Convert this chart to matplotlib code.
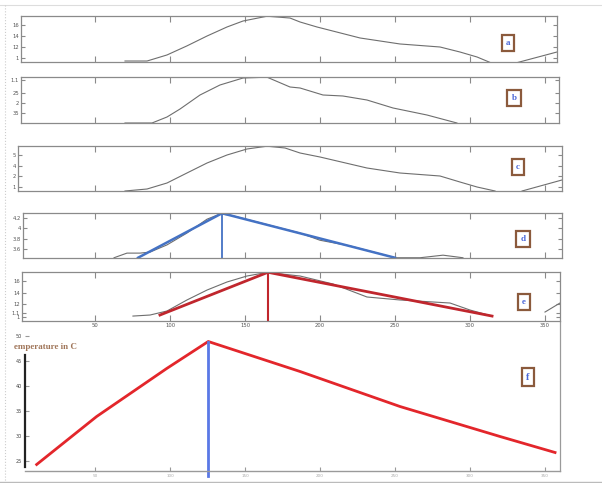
import numpy as np
import matplotlib
matplotlib.use('Agg')
import matplotlib.pyplot as plt
from matplotlib.lines import Line2D

# ---- data ----
# panel a (grey curve, two pieces)
a_x = [70, 84.7, 98, 111.3, 124.7, 138, 148.7, 164.7, 180, 186.7, 198, 226.7, 253.3, 280, 293.3, 304.7, 313.3]
a_y = [0.945, 0.945, 1.055, 1.22, 1.40, 1.564, 1.673, 1.76, 1.727, 1.655, 1.564, 1.364, 1.255, 1.20, 1.109, 1.018, 0.92]
a2_x = [332, 358]
a2_y = [0.92, 1.109]
a_ticks = [1.0, 1.2, 1.4, 1.6]
a_labels = ['1', '12', '14', '16']

# panel b
b_x = [70, 88, 98, 106.7, 120, 133.3, 148.7, 164.7, 180, 186.7, 202, 215.3, 231.3, 248.7, 271.3, 291.3]
b_y = [0, 0, 0.6, 1.4, 2.8, 3.8, 4.5, 4.58, 3.6, 3.5, 2.8, 2.7, 2.3, 1.5, 0.8, 0]
b_ticks = [1.0, 2.0, 3.0, 4.3]
b_labels = ['35', '2', '25', '1.1']

# panel c
c_x = [70, 84.7, 98, 111.3, 124.7, 138, 151.3, 164.7, 176.7, 186.7, 200, 231.3, 253.3, 280, 293.3, 304.7, 316.7]
c_y = [0, 0.2, 0.8, 1.8, 2.8, 3.6, 4.2, 4.48, 4.3, 3.8, 3.4, 2.3, 1.8, 1.5, 0.9, 0.4, 0]
c2_x = [334.7, 361.3]
c2_y = [0, 1.1]
c_ticks = [0.4, 1.5, 2.5, 3.6]
c_labels = ['1', '2', '4', '5']

# panel d
d_x = [62.7, 71.3, 80, 86.7, 98, 111.3, 124.7, 133.3, 140, 186.7, 200, 220, 250, 266.7, 282, 295.3]
d_y = [3.43, 3.52, 3.52, 3.54, 3.68, 3.91, 4.18, 4.28, 4.26, 3.91, 3.77, 3.66, 3.43, 3.43, 3.48, 3.43]
d_fit_x = [78.7, 134.7, 250]
d_fit_y = [3.43, 4.295, 3.43]
d_ticks = [3.6, 3.8, 4.0, 4.2]
d_labels = ['3.6', '3.8', '4', '4.2']

# panel e
e_x = [75.3, 86.7, 98, 111.3, 124.7, 138, 151.3, 164.7, 186.7, 208.7, 231.3, 253.3, 275.3, 286.7, 300, 314.7]
e_y = [0.99, 1.008, 1.078, 1.27, 1.443, 1.583, 1.687, 1.75, 1.687, 1.548, 1.322, 1.27, 1.235, 1.217, 1.095, 0.99]
e2_x = [350, 360]
e2_y = [1.06, 1.217]
e_fit_x = [93.3, 165.3, 314.7]
e_fit_y = [1.008, 1.752, 0.99]
e_ticks = [0.98, 1.05, 1.2, 1.4, 1.6]
e_labels = ['1', '1.1', '12', '14', '16']

# panel f
f_x = [11.1, 51.1, 97.8, 125.5, 186.7, 253.3, 320, 356.7]
f_y = [24.3, 33.9, 43.5, 48.9, 42.9, 35.9, 29.9, 26.7]
f_peak_x = 125.5
f_yticks = [25, 30, 35, 40, 45, 50]

x_ticks = [50, 100, 150, 200, 250, 300, 350]

W, H = 602, 483
fig = plt.figure(figsize=(W / 100, H / 100), dpi=100)

GREY = '#6e6e6e'
SPINE = '#8a8a8a'
BROWN = '#8b5a3c'
LBLUE = '#4a66d8'


def px_axes(l, t, r, b):
    ax = fig.add_axes([l / W, 1 - b / H, (r - l) / W, (b - t) / H])
    # x axis shared mapping: x = (px - 20) / 1.5
    ax.set_xlim((l - 20) / 1.5, (r - 20) / 1.5)
    return ax


def style(ax, yt, yl, xlabels=False):
    for s in ax.spines.values():
        s.set_color(SPINE)
        s.set_linewidth(0.9)
    ax.set_xticks(x_ticks)
    ax.set_yticks(yt)
    ax.set_yticklabels(yl)
    ax.tick_params(axis='both', direction='in', top=True, right=True,
                   color=SPINE, labelsize=3.8, labelcolor='#555555', pad=1.5)
    ax.tick_params(axis='x', length=4)
    ax.tick_params(axis='y', length=3)
    if not xlabels:
        ax.set_xticklabels([])


def tag(xp, yp, s, size=6.5):
    fig.text(xp / W, 1 - yp / H, s, ha='center', va='center', color=LBLUE,
             fontsize=size, family='Liberation Serif', fontweight='bold',
             bbox=dict(boxstyle='square,pad=0.45', fc='white', ec=BROWN, lw=1.6))


# f first, so panel e's tick labels are drawn above it
ax = px_axes(25, 322, 560, 471)
ax.patch.set_visible(False)
ax.plot(f_x, f_y, color='#e3262b', lw=2)
ax.plot([f_peak_x, f_peak_x], [22.0, max(f_y)], color='#5a78e6', lw=2, clip_on=False)
ax.set_ylim(23.0, 52.8)
ax.spines['top'].set_visible(False)
ax.spines['right'].set_color('#9a9a9a')
ax.spines['right'].set_linewidth(0.9)
ax.spines['bottom'].set_color('#9a9a9a')
ax.spines['bottom'].set_linewidth(1.0)
ax.spines['left'].set_color('#222222')
ax.spines['left'].set_linewidth(1.6)
ax.spines['left'].set_bounds(23.8, 46.2)
ax.set_xticks(x_ticks)
ax.set_yticks(f_yticks)
ax.tick_params(axis='both', direction='in', color='#999999', length=3,
               labelsize=3.5, labelcolor='#444444', pad=2)
ax.tick_params(axis='x', labelcolor='#aaaaaa', labelsize=3)
ax.text(-0.02, 0.83, 'emperature in C', transform=ax.transAxes, ha='left',
        va='center', color='#a0765a', fontsize=6.5, family='Liberation Serif',
        fontweight='bold')
tag(528, 377, 'f', size=7.5)

# a
ax = px_axes(21, 16, 557, 62)
ax.plot(a_x, a_y, color=GREY, lw=0.8)
ax.plot(a2_x, a2_y, color=GREY, lw=0.8)
ax.set_ylim(0.927, 1.764)
style(ax, a_ticks, a_labels)
tag(508, 43, 'a')

# b
ax = px_axes(21, 77, 559, 123)
ax.plot(b_x, b_y, color=GREY, lw=0.8)
ax.set_ylim(0, 4.6)
style(ax, b_ticks, b_labels)
tag(514, 98, 'b')

# c
ax = px_axes(18, 146, 562, 191)
ax.plot(c_x, c_y, color=GREY, lw=0.8)
ax.plot(c2_x, c2_y, color=GREY, lw=0.8)
ax.set_ylim(0, 4.5)
style(ax, c_ticks, c_labels)
tag(518, 167, 'c')

# d
ax = px_axes(23, 213, 562, 258)
ax.plot(d_x, d_y, color=GREY, lw=0.8)
ax.plot(d_fit_x, d_fit_y, color='#4472c4', lw=1.8)
ax.plot([d_fit_x[1], d_fit_x[1]], [3.425, d_fit_y[1]], color='#4472c4', lw=1.3)
ax.set_ylim(3.425, 4.30)
style(ax, d_ticks, d_labels)
tag(523, 239, 'd')

# e
ax = px_axes(22, 272, 560, 321)
ax.plot(e_x, e_y, color=GREY, lw=0.8)
ax.plot(e2_x, e2_y, color=GREY, lw=0.8)
ax.plot(e_fit_x, e_fit_y, color='#c0262d', lw=2)
ax.plot([e_fit_x[1], e_fit_x[1]], [0.904, e_fit_y[1]], color='#c0262d', lw=1.5)
ax.set_ylim(0.904, 1.757)
style(ax, e_ticks, e_labels, xlabels=True)
tag(524, 302, 'e')

# scan frame lines
fig.add_artist(Line2D([0, 1], [1 - 5 / H, 1 - 5 / H], color='#dddddd', lw=0.8))
fig.add_artist(Line2D([5 / W, 5 / W], [0, 1 - 5 / H], color='#cccccc', lw=0.8, ls=':'))
fig.add_artist(Line2D([0, 1], [1 - 482 / H, 1 - 482 / H], color='#bbbbbb', lw=1.0))

fig.savefig('out.png', dpi=100)
